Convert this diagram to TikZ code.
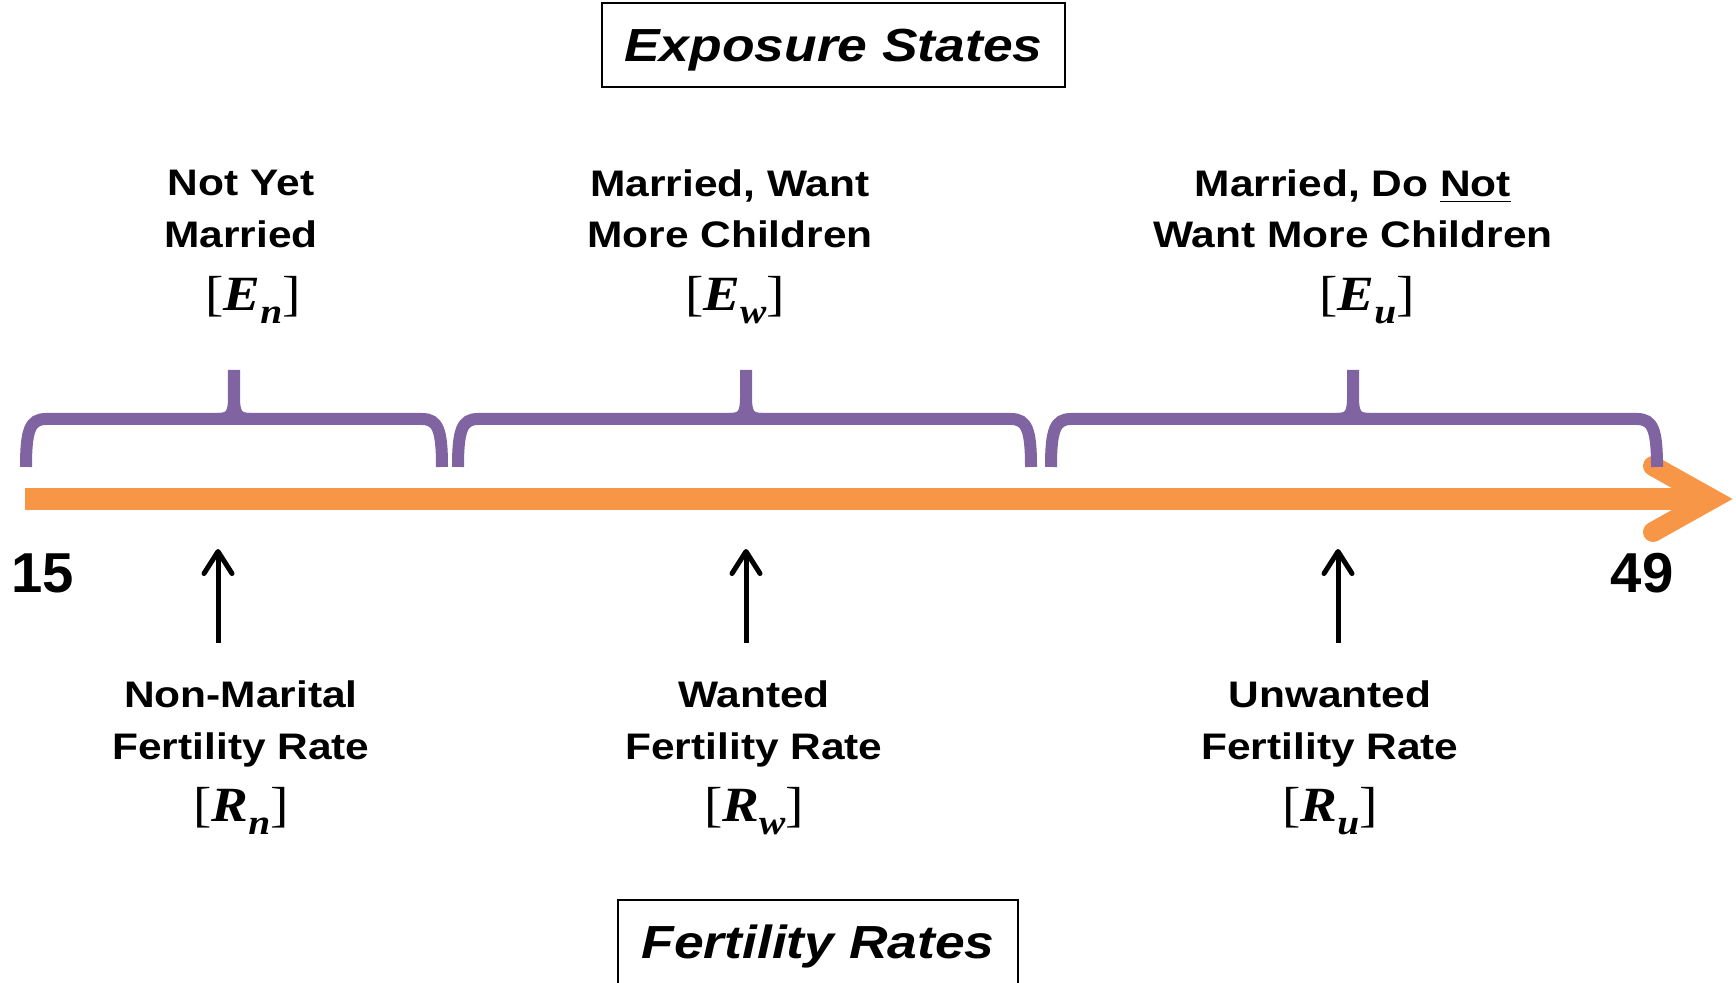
\documentclass[tikz,border=0pt]{standalone}
\usepackage{fontspec}
\usepackage{tikz}
\usetikzlibrary{arrows.meta}
\newfontfamily\lblfont{Liberation Sans}[FakeStretch=1.15]
\newfontfamily\numfont{Liberation Sans}
\newfontfamily\varfont{Liberation Serif}[FakeStretch=1.12]
\definecolor{exporange}{HTML}{F79646}
\definecolor{exppurple}{HTML}{8064A2}
\newcommand{\statevar}[2]{{\varfont\fontsize{14}{14}\selectfont[\textbf{\textit{#1}}\raisebox{-0.55ex}{\fontsize{10}{10}\selectfont\textbf{\textit{#2}}}]}}

\begin{document}
\begin{tikzpicture}
[
x=0.01cm, y=-0.01cm,
timeline/.style={line width=2.2mm,exporange},
timehead/.style={line width=2mm,exporange,line cap=round,line join=miter},
stateline/.style={line width=1.2mm,exppurple},
rate arrow/.style={line width=0.5mm,-{Straight Barb[length=2.2mm,width=2.8mm,round]}},
heading/.style={draw,line width=0.2mm,inner sep=0pt,minimum height=8.4mm,text depth=0pt,
            font=\lblfont\bfseries\itshape\fontsize{13.2}{16}\selectfont},
caption/.style={align=center,inner sep=0pt,font=\lblfont\bfseries\fontsize{10.5}{14.6}\selectfont},
varlab/.style={inner sep=0pt},
agelab/.style={inner sep=0pt,font=\numfont\bfseries\fontsize{16}{16}\selectfont},
]
\useasboundingbox (0,0) rectangle (1736,983);
\clip (0,0) rectangle (1736,983);

%Place the nodes
\node[heading,minimum width=4.63cm] (exp) at (833.5,45) {Exposure States};
\node[heading,minimum width=4cm] (fert) at (818,942) {Fertility Rates};

\node[caption] (en-txt) at (241,209) {Not Yet\\Married};
\node[caption] (ew-txt) at (730,209) {Married, Want\\More Children};
\node[caption] (eu-txt) at (1353,209) {Married, Do \underline{Not}\\Want More Children};
\node[varlab] (en) at (253,300) {\statevar{E}{n}};
\node[varlab] (ew) at (735,300) {\statevar{E}{w}};
\node[varlab] (eu) at (1367,300) {\statevar{E}{u}};

\node[caption] (rn-txt) at (241,724) {Non-Marital\\Fertility Rate};
\node[caption] (rw-txt) at (754,724) {Wanted\\Fertility Rate};
\node[caption] (ru-txt) at (1330,724) {Unwanted\\Fertility Rate};
\node[varlab] (rn) at (241,811) {\statevar{R}{n}};
\node[varlab] (rw) at (754,811) {\statevar{R}{w}};
\node[varlab] (ru) at (1330,811) {\statevar{R}{u}};

\node[agelab] (age15) at (43,573) {15};
\node[agelab] (age49) at (1642,573) {49};

%Time axis
\coordinate (t-start) at (25,499);
\coordinate (t-end) at (1712,499);
\coordinate (h-up) at (1653,466);
\coordinate (h-dn) at (1653,532);
\draw[timeline] (t-start) -- (t-end);
\draw[timehead] (h-up) -- (t-end) -- (h-dn);

%Braces over the exposure states
\foreach \l/\p/\r in {26/234/442, 458/746/1031, 1051/1353/1657}
{
  \draw[stateline] (\l,467) .. controls (\l,430) and (\l+4,419) .. (\l+20,419)
        -- (\r-20,419) .. controls (\r-4,419) and (\r,430) .. (\r,467);
  \draw[stateline,line cap=round] (\p-16,419) .. controls (\p-3,419) and (\p,413) .. (\p,398)
        -- (\p,370) -- (\p,398) .. controls (\p,413) and (\p+3,419) .. (\p+16,419);
}

%Draw the connections
\coordinate (rn-foot) at (218,643);
\coordinate (rn-tip) at (218,549);
\coordinate (rw-foot) at (746,643);
\coordinate (rw-tip) at (746,549);
\coordinate (ru-foot) at (1338,643);
\coordinate (ru-tip) at (1338,549);
\draw[rate arrow] (rn-foot) -- (rn-tip);
\draw[rate arrow] (rw-foot) -- (rw-tip);
\draw[rate arrow] (ru-foot) -- (ru-tip);
\end{tikzpicture}
\end{document}
